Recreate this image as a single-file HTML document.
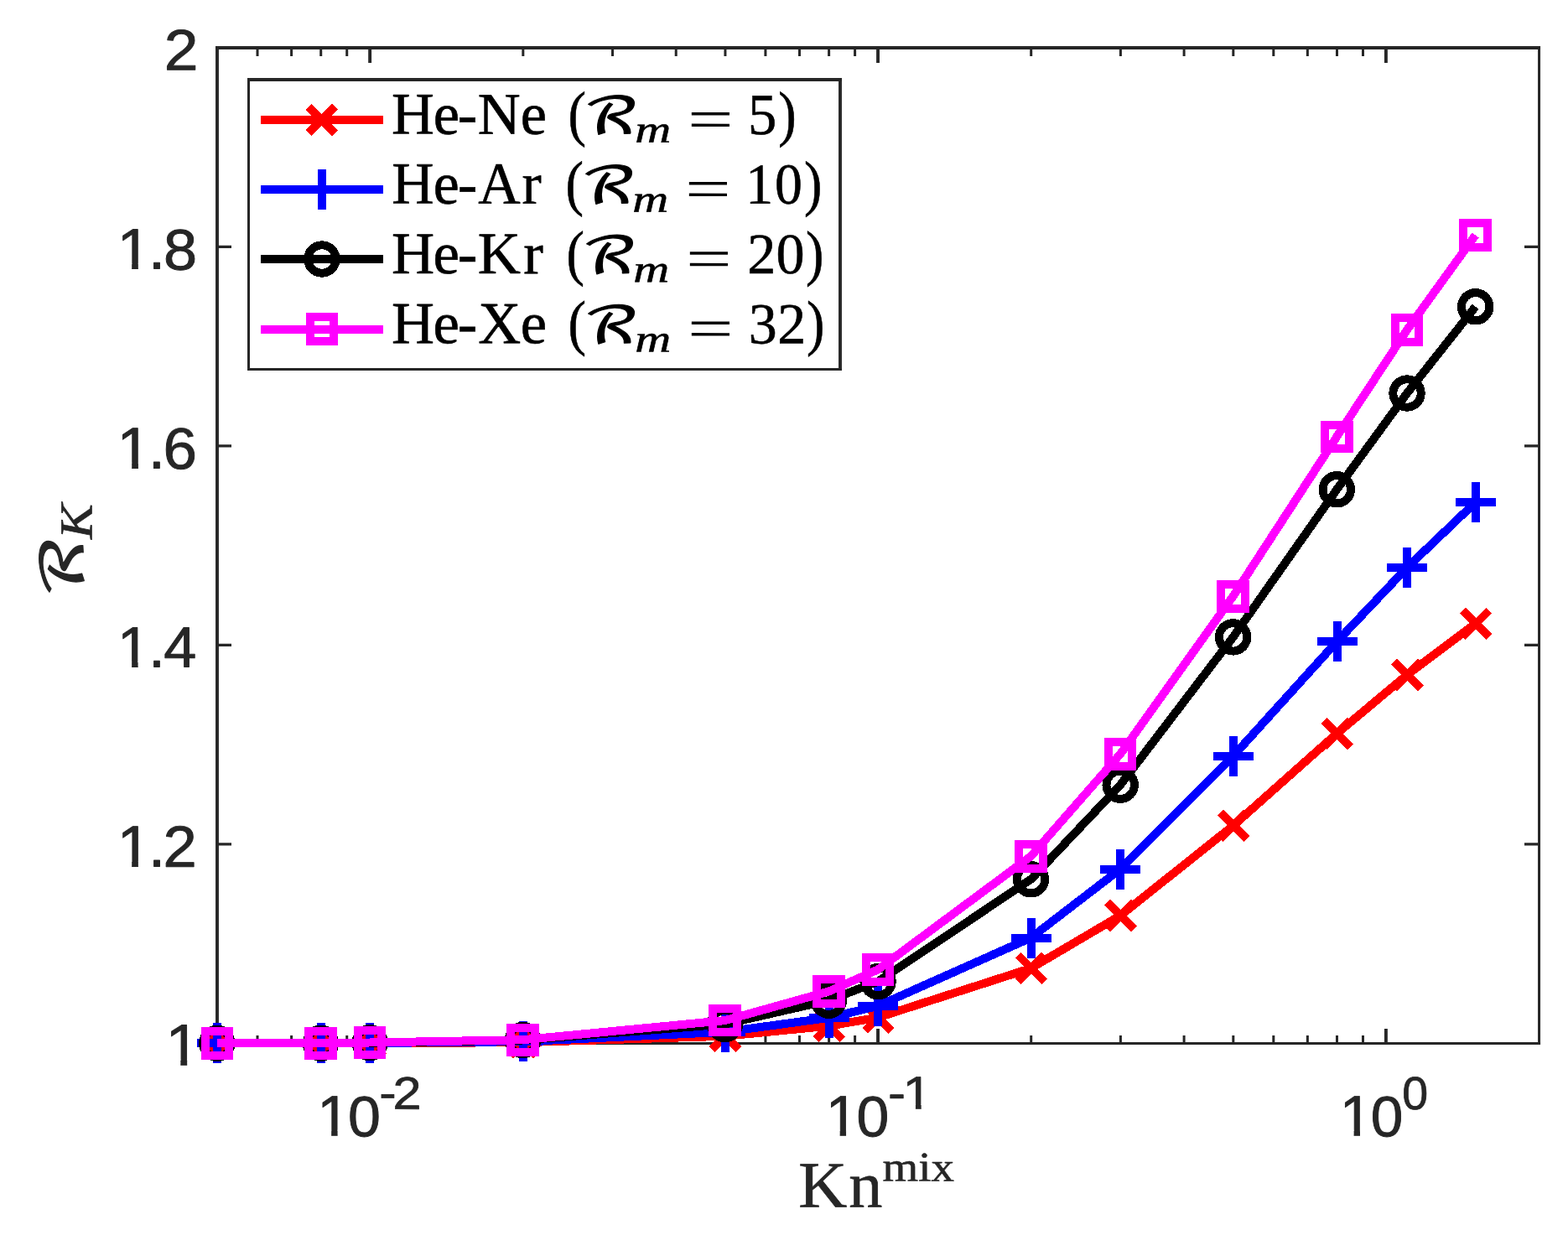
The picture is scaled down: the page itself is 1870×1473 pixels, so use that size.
<!DOCTYPE html>
<html lang="en"><head><meta charset="utf-8"><title>R_K versus Kn^mix</title>
<style>html,body{margin:0;padding:0;background:#fff;}svg{display:block;}text{text-rendering:geometricPrecision;}</style></head><body>
<svg xmlns="http://www.w3.org/2000/svg" width="1870" height="1473" viewBox="0 0 1870 1473">
<defs><clipPath id="c1"><path clip-rule="evenodd" d="M-45.95 -120H394.05V60H-45.95ZM-2.11 -6.64H10.91V20H-2.11ZM18.25 -6.64H30.73V20H18.25Z"/></clipPath><clipPath id="c2"><path clip-rule="evenodd" d="M-46.03 -120H393.97V60H-46.03ZM-2.19 -6.64H10.83V20H-2.19ZM18.17 -6.64H30.65V20H18.17Z"/></clipPath><clipPath id="c3"><path clip-rule="evenodd" d="M-45.7 -120H394.3V60H-45.7ZM-1.86 -6.64H11.16V20H-1.86ZM18.5 -6.64H30.98V20H18.5Z"/></clipPath><clipPath id="c4"><path clip-rule="evenodd" d="M-45.98 -120H394.02V60H-45.98ZM-2.14 -6.64H10.88V20H-2.14ZM18.22 -6.64H30.7V20H18.22Z"/></clipPath><clipPath id="c5"><path clip-rule="evenodd" d="M-46.23 -120H393.77V60H-46.23ZM-2.39 -6.64H10.63V20H-2.39ZM17.97 -6.64H30.45V20H17.97Z"/></clipPath><clipPath id="c6"><path clip-rule="evenodd" d="M-45.63 -120H394.37V60H-45.63ZM-1.79 -6.64H11.23V20H-1.79ZM18.57 -6.64H31.05V20H18.57Z"/></clipPath><clipPath id="c7"><path clip-rule="evenodd" d="M-46.08 -120H393.92V60H-46.08ZM-2.24 -6.64H10.79V20H-2.24ZM18.12 -6.64H30.6V20H18.12Z"/></clipPath><clipPath id="c8"><path clip-rule="evenodd" d="M-26.19 -120H413.81V60H-26.19ZM16.68 -5.51H27.27V20H16.68ZM33.2 -5.51H43.36V20H33.2Z"/></clipPath><clipPath id="c9"><path clip-rule="evenodd" d="M-46.15 -120H393.85V60H-46.15ZM-2.31 -6.64H10.71V20H-2.31ZM18.05 -6.64H30.53V20H18.05Z"/></clipPath></defs>
<rect x="0" y="0" width="1870" height="1473" fill="#fff"/>
<g id="axes" fill="none" stroke="#262626" stroke-linecap="butt">
<path d="M257.05 56.95H1837.05" stroke-width="3.9"/>
<path d="M259 55V1246" stroke-width="3.9"/>
<path d="M257.05 1244.5H1837.05" stroke-width="3.0"/>
<path d="M1835.55 55V1246" stroke-width="3.0"/>
<path d="M259.05 1006.83H276M1835.6 1006.83H1818M259.05 769.36H276M1835.6 769.36H1818M259.05 531.89H276M1835.6 531.89H1818M259.05 294.42H276M1835.6 294.42H1818" stroke-width="3.1"/>
<path d="M441.14 1244.3V1226.9M441.14 56.95V75M1047.03 1244.3V1226.9M1047.03 56.95V75M1652.91 1244.3V1226.9M1652.91 56.95V75" stroke-width="3.9"/>
<path d="M307.02 1244.3V1235M307.02 56.95V67M347.59 1244.3V1235M347.59 56.95V67M382.72 1244.3V1235M382.72 56.95V67M413.72 1244.3V1235M413.72 56.95V67M623.83 1244.3V1235M623.83 56.95V67M730.52 1244.3V1235M730.52 56.95V67M806.22 1244.3V1235M806.22 56.95V67M864.94 1244.3V1235M864.94 56.95V67M912.91 1244.3V1235M912.91 56.95V67M953.47 1244.3V1235M953.47 56.95V67M988.61 1244.3V1235M988.61 56.95V67M1019.6 1244.3V1235M1019.6 56.95V67M1229.71 1244.3V1235M1229.71 56.95V67M1336.41 1244.3V1235M1336.41 56.95V67M1412.1 1244.3V1235M1412.1 56.95V67M1470.82 1244.3V1235M1470.82 56.95V67M1518.8 1244.3V1235M1518.8 56.95V67M1559.36 1244.3V1235M1559.36 56.95V67M1594.49 1244.3V1235M1594.49 56.95V67M1625.49 1244.3V1235M1625.49 56.95V67" stroke-width="3.0"/>
</g>
<g id="ticklabels">
<text id="t1" transform="matrix(1.0543 0.001 0 0.9881 198.90 83.34)" x="-3.04" y="0" font-family="'Liberation Sans', sans-serif" font-size="69.44" fill="#262626" stroke="#262626" stroke-width="0.9" stroke-linejoin="round">2</text>
<text id="t2" transform="matrix(1.0385 0.001 0 0.9843 145.87 320.40)" x="-5.95 29.96 47.23" y="0 0 0.97" font-family="'Liberation Sans', sans-serif" font-size="69.44" fill="#262626" stroke="#262626" stroke-width="0.9" stroke-linejoin="round" clip-path="url(#c1)">1.8</text>
<text id="t3" transform="matrix(1.0482 0.001 0 1.0028 145.87 558.39)" x="-6.03 29.59 46.38" y="0 0 0.58" font-family="'Liberation Sans', sans-serif" font-size="69.44" fill="#262626" stroke="#262626" stroke-width="0.9" stroke-linejoin="round" clip-path="url(#c2)">1.6</text>
<text id="t4" transform="matrix(1.0111 0.001 0 0.9843 145.87 795.40)" x="-5.7 31.03 48.85" y="0" font-family="'Liberation Sans', sans-serif" font-size="69.44" fill="#262626" stroke="#262626" stroke-width="0.9" stroke-linejoin="round" clip-path="url(#c3)">1.4</text>
<text id="t5" transform="matrix(1.0422 0.001 0 1.0028 145.87 1033.39)" x="-5.98 29.82 46.62" y="0 0 0.36" font-family="'Liberation Sans', sans-serif" font-size="69.44" fill="#262626" stroke="#262626" stroke-width="0.9" stroke-linejoin="round" clip-path="url(#c4)">1.2</text>
<text id="t6" transform="matrix(1.0629 0.001 0 0.9997 204.06 1270.29)" x="-6.23" y="0" font-family="'Liberation Sans', sans-serif" font-size="69.44" fill="#262626" stroke="#262626" stroke-width="0.9" stroke-linejoin="round" clip-path="url(#c5)">1</text>
<g><text id="t7" transform="matrix(1.0082 0.001 0 0.9814 383.85 1354.37)" x="-5.63 30.92" y="0 0.88" font-family="'Liberation Sans', sans-serif" font-size="69.44" fill="#262626" stroke="#262626" stroke-width="0.9" stroke-linejoin="round" clip-path="url(#c6)">10</text><text id="t8" transform="matrix(1.1015 0.001 0 0.9854 453.85 1322.65)" x="-1.43 13.34" y="-0.63 0" font-family="'Liberation Sans', sans-serif" font-size="55.55" fill="#262626" stroke="#262626" stroke-width="0.72" stroke-linejoin="round">-2</text></g>
<g><text id="t9" transform="matrix(1.0036 0.001 0 0.9814 990.87 1354.37)" x="-6.08 30.64" y="0 0.88" font-family="'Liberation Sans', sans-serif" font-size="69.44" fill="#262626" stroke="#262626" stroke-width="0.9" stroke-linejoin="round" clip-path="url(#c7)">10</text><text id="t10" transform="matrix(1.1360 0.001 0 0.9959 1060.95 1322.49)" x="-1.67 13.81" y="0.03 0" font-family="'Liberation Sans', sans-serif" font-size="55.55" fill="#262626" stroke="#262626" stroke-width="0.72" stroke-linejoin="round" clip-path="url(#c8)">-1</text></g>
<g><text id="t11" transform="matrix(0.9995 0.001 0 0.9814 1603.94 1354.37)" x="-6.15 30.76" y="0 0.88" font-family="'Liberation Sans', sans-serif" font-size="69.44" fill="#262626" stroke="#262626" stroke-width="0.9" stroke-linejoin="round" clip-path="url(#c9)">10</text><text id="t12" transform="matrix(0.9991 0.001 0 0.9965 1673.94 1323.09)" x="-1.81" y="0" font-family="'Liberation Sans', sans-serif" font-size="55.55" fill="#262626" stroke="#262626" stroke-width="0.72" stroke-linejoin="round">0</text></g>
<g id="xlabel"><text id="t13" transform="matrix(1.0510 0.001 0 1.0266 954.87 1439.64)" x="-2.54 54.51" y="0" font-family="'Liberation Serif', serif" font-size="76.4" fill="#262626" stroke="#262626" stroke-width="0.6" stroke-linejoin="round">Kn</text><text id="t14" transform="matrix(1.0256 0.001 0 0.9303 1052.90 1408.57)" x="-0.51 41.34 56.13" y="0" font-family="'Liberation Serif', serif" font-size="53.48" fill="#262626" stroke="#262626" stroke-width="0.6" stroke-linejoin="round">mix</text></g>
<g id="ylabel"><text id="t15" transform="rotate(-90) matrix(1.1600 0.001 0 0.8959 -706.98 99.10)" x="-5.51" y="0" font-family="'DejaVu Math TeX Gyre', 'DejaVu Sans', sans-serif" font-size="76.4" fill="#262626" stroke="#262626" stroke-width="1.2" stroke-linejoin="round">ℛ</text><text id="t16" transform="rotate(-90) matrix(1.1728 0.001 0 1.0337 -643.98 109.46)" x="0.93" y="0" font-family="'Liberation Serif', serif" font-size="53.48" fill="#262626" font-style="italic" stroke="#262626" stroke-width="0.6" stroke-linejoin="round">K</text></g>
</g>
<g id="data" fill="none" stroke-linecap="butt" stroke-linejoin="miter" shape-rendering="crispEdges">
<path d="M258.8 1244.4L382.47 1244.2L441.19 1244.2L623.58 1243.2L864.69 1235.8L988.36 1223.7L1047.08 1213.6L1229.46 1154.9L1336.16 1092L1470.57 984.9L1594.24 875L1678.04 805L1759.65 743.9" stroke="#ff0000" stroke-width="10.0"/>
<path d="M243.4 1228.6L275 1260.2M243.4 1260.2L275 1228.6M367.07 1228.4L398.67 1260M367.07 1260L398.67 1228.4M425.79 1228.4L457.39 1260M425.79 1260L457.39 1228.4M608.18 1227.4L639.78 1259M608.18 1259L639.78 1227.4M849.29 1220L880.89 1251.6M849.29 1251.6L880.89 1220M972.96 1207.9L1004.56 1239.5M972.96 1239.5L1004.56 1207.9M1031.68 1197.8L1063.28 1229.4M1031.68 1229.4L1063.28 1197.8M1214.06 1139.1L1245.66 1170.7M1214.06 1170.7L1245.66 1139.1M1320.76 1076.2L1352.36 1107.8M1320.76 1107.8L1352.36 1076.2M1455.17 969.1L1486.77 1000.7M1455.17 1000.7L1486.77 969.1M1578.84 859.2L1610.44 890.8M1578.84 890.8L1610.44 859.2M1662.64 789.2L1694.24 820.8M1662.64 820.8L1694.24 789.2M1744.25 728.1L1775.85 759.7M1744.25 759.7L1775.85 728.1" stroke="#ff0000" stroke-width="9.8"/>
<path d="M258.8 1244.4L382.47 1244.2L441.19 1244L623.58 1242.2L864.69 1230.8L988.36 1213.9L1047.08 1199.8L1229.46 1118.5L1336.16 1036.5L1470.57 901.9L1594.24 765.4L1678.04 677L1759.65 599.1" stroke="#0000ff" stroke-width="10.0"/>
<path d="M235.1 1244.4H283.1M259.1 1220.4V1268.4M358.77 1244.2H406.77M382.77 1220.2V1268.2M417.49 1244H465.49M441.49 1220V1268M599.88 1242.2H647.88M623.88 1218.2V1266.2M840.99 1230.8H888.99M864.99 1206.8V1254.8M964.66 1213.9H1012.66M988.66 1189.9V1237.9M1023.38 1199.8H1071.38M1047.38 1175.8V1223.8M1205.76 1118.5H1253.76M1229.76 1094.5V1142.5M1312.46 1036.5H1360.46M1336.46 1012.5V1060.5M1446.87 901.9H1494.87M1470.87 877.9V925.9M1570.54 765.4H1618.54M1594.54 741.4V789.4M1654.34 677H1702.34M1678.34 653V701M1735.95 599.1H1783.95M1759.95 575.1V623.1" stroke="#0000ff" stroke-width="10.0"/>
<path d="M258.8 1244.4L382.47 1244.2L441.19 1243.7L623.58 1240.5L864.69 1221.5L988.36 1193.2L1047.08 1170.6L1229.46 1048.8L1336.16 936.2L1470.57 759.9L1594.24 583.8L1678.04 469L1759.65 365.8" stroke="#000000" stroke-width="10.0"/>
<path d="M242.1 1244.4a16.7 16.7 0 1 0 33.4 0a16.7 16.7 0 1 0 -33.4 0ZM365.77 1244.2a16.7 16.7 0 1 0 33.4 0a16.7 16.7 0 1 0 -33.4 0ZM424.49 1243.7a16.7 16.7 0 1 0 33.4 0a16.7 16.7 0 1 0 -33.4 0ZM606.88 1240.5a16.7 16.7 0 1 0 33.4 0a16.7 16.7 0 1 0 -33.4 0ZM847.99 1221.5a16.7 16.7 0 1 0 33.4 0a16.7 16.7 0 1 0 -33.4 0ZM971.66 1193.2a16.7 16.7 0 1 0 33.4 0a16.7 16.7 0 1 0 -33.4 0ZM1030.38 1170.6a16.7 16.7 0 1 0 33.4 0a16.7 16.7 0 1 0 -33.4 0ZM1212.76 1048.8a16.7 16.7 0 1 0 33.4 0a16.7 16.7 0 1 0 -33.4 0ZM1319.46 936.2a16.7 16.7 0 1 0 33.4 0a16.7 16.7 0 1 0 -33.4 0ZM1453.87 759.9a16.7 16.7 0 1 0 33.4 0a16.7 16.7 0 1 0 -33.4 0ZM1577.54 583.8a16.7 16.7 0 1 0 33.4 0a16.7 16.7 0 1 0 -33.4 0ZM1661.34 469a16.7 16.7 0 1 0 33.4 0a16.7 16.7 0 1 0 -33.4 0ZM1742.95 365.8a16.7 16.7 0 1 0 33.4 0a16.7 16.7 0 1 0 -33.4 0Z" stroke="#000000" stroke-width="10.0"/>
<path d="M258.8 1244.4L382.47 1244.2L441.19 1243.5L623.58 1240.2L864.69 1217.1L988.36 1182.5L1047.08 1156.4L1229.46 1021.2L1336.16 899.3L1470.57 711.2L1594.24 520.9L1678.04 393.4L1759.65 280.5" stroke="#ff00ff" stroke-width="10.0"/>
<path d="M244.5 1230.1H273.1V1258.7H244.5ZM368.17 1229.9H396.77V1258.5H368.17ZM426.89 1229.2H455.49V1257.8H426.89ZM609.28 1225.9H637.88V1254.5H609.28ZM850.39 1202.8H878.99V1231.4H850.39ZM974.06 1168.2H1002.66V1196.8H974.06ZM1032.78 1142.1H1061.38V1170.7H1032.78ZM1215.16 1006.9H1243.76V1035.5H1215.16ZM1321.86 885H1350.46V913.6H1321.86ZM1456.27 696.9H1484.87V725.5H1456.27ZM1579.94 506.6H1608.54V535.2H1579.94ZM1663.74 379.1H1692.34V407.7H1663.74ZM1745.35 266.2H1773.95V294.8H1745.35Z" stroke="#ff00ff" stroke-width="10.0"/>
</g>
<g id="legend">
<rect x="295" y="93" width="709" height="349" fill="#fff"/>
<g fill="none" stroke="#262626"><path d="M295 95H1004" stroke-width="3.9"/><path d="M1002 93V442" stroke-width="3.9"/><path d="M296.5 93V442M295 440.45H1004" stroke-width="3"/></g>
<g>
<g fill="none" stroke="#ff0000" stroke-linecap="butt" shape-rendering="crispEdges"><path d="M310.9 143.0H457" stroke-width="10.0"/><path d="M368.1 127.2L399.7 158.8M368.1 158.8L399.7 127.2" stroke-width="9.8"/></g>
<text id="t17" transform="matrix(1.0160 0.001 0 1.0202 468.96 159.60)" x="-1.89 46.93 75.59 99.23 149.35" y="0" font-family="'Liberation Serif', serif" font-size="69.44" fill="#000" stroke="#000" stroke-width="0.6" stroke-linejoin="round">He-Ne</text> <text id="t18" transform="matrix(0.9276 0.001 0 1.0541 680.10 159.95)" x="-2.75" y="0" font-family="'Liberation Serif', serif" font-size="69.44" fill="#000" stroke="#000" stroke-width="0.6" stroke-linejoin="round">(</text><text id="t19" transform="matrix(1.1526 0.001 0 0.8609 700.97 159.31)" x="-4.96" y="0" font-family="'DejaVu Math TeX Gyre', 'DejaVu Sans', sans-serif" font-size="69.44" fill="#000" stroke="#000" stroke-width="1.2" stroke-linejoin="round">ℛ</text><text id="t20" transform="matrix(1.2258 0.001 0 0.9390 758.98 169.82)" x="-1.46" y="0" font-family="'Liberation Serif', serif" font-size="48.61" fill="#000" font-style="italic" stroke="#000" stroke-width="0.6" stroke-linejoin="round">m</text> <text id="t21" transform="matrix(1.3970 0.001 0 0.9770 824.94 164.97)" x="-3.46" y="0" font-family="'Liberation Serif', serif" font-size="69.44" fill="#000">=</text> <text id="t22" transform="matrix(0.9887 0.001 0 1.0071 895.79 159.94)" x="-3.73" y="0" font-family="'Liberation Serif', serif" font-size="69.44" fill="#000" stroke="#000" stroke-width="0.6" stroke-linejoin="round">5</text><text id="t23" transform="matrix(0.9271 0.001 0 1.0570 929.97 160.14)" x="-1.94" y="0" font-family="'Liberation Serif', serif" font-size="69.44" fill="#000" stroke="#000" stroke-width="0.6" stroke-linejoin="round">)</text>
</g>
<g>
<g fill="none" stroke="#0000ff" stroke-linecap="butt" shape-rendering="crispEdges"><path d="M310.9 226.0H457" stroke-width="10.0"/><path d="M359.9 226H407.9M383.9 202V250" stroke-width="10.0"/></g>
<text id="t24" transform="matrix(1.0046 0.001 0 1.0202 468.96 242.60)" x="-1.62 47.64 76.58 100.77 152.81" y="0" font-family="'Liberation Serif', serif" font-size="69.44" fill="#000" stroke="#000" stroke-width="0.6" stroke-linejoin="round">He-Ar</text> <text id="t25" transform="matrix(0.9276 0.001 0 1.0541 677.10 242.95)" x="-2.75" y="0" font-family="'Liberation Serif', serif" font-size="69.44" fill="#000" stroke="#000" stroke-width="0.6" stroke-linejoin="round">(</text><text id="t26" transform="matrix(1.1526 0.001 0 0.8609 697.97 242.31)" x="-4.96" y="0" font-family="'DejaVu Math TeX Gyre', 'DejaVu Sans', sans-serif" font-size="69.44" fill="#000" stroke="#000" stroke-width="1.2" stroke-linejoin="round">ℛ</text><text id="t27" transform="matrix(1.2258 0.001 0 0.9390 755.98 252.82)" x="-1.46" y="0" font-family="'Liberation Serif', serif" font-size="48.61" fill="#000" font-style="italic" stroke="#000" stroke-width="0.6" stroke-linejoin="round">m</text> <text id="t28" transform="matrix(1.3970 0.001 0 0.9770 821.94 247.97)" x="-3.46" y="0" font-family="'Liberation Serif', serif" font-size="69.44" fill="#000">=</text> <text id="t29" transform="matrix(0.9472 0.001 0 0.9935 895.02 242.67)" x="-6.17 30.7" y="0" font-family="'Liberation Serif', serif" font-size="69.44" fill="#000" stroke="#000" stroke-width="0.6" stroke-linejoin="round">10</text><text id="t30" transform="matrix(0.9271 0.001 0 1.0570 960.92 243.14)" x="-1.94" y="0" font-family="'Liberation Serif', serif" font-size="69.44" fill="#000" stroke="#000" stroke-width="0.6" stroke-linejoin="round">)</text>
</g>
<g>
<g fill="none" stroke="#000000" stroke-linecap="butt" shape-rendering="crispEdges"><path d="M310.9 309.0H457" stroke-width="10.0"/><path d="M367.2 309a16.7 16.7 0 1 0 33.4 0a16.7 16.7 0 1 0 -33.4 0Z" stroke-width="10.0"/></g>
<text id="t31" transform="matrix(1.0209 0.001 0 1.0202 468.96 326.00)" x="-2 46.62 75.17 98.73 152.06" y="0" font-family="'Liberation Serif', serif" font-size="69.44" fill="#000" stroke="#000" stroke-width="0.6" stroke-linejoin="round">He-Kr</text> <text id="t32" transform="matrix(0.9276 0.001 0 1.0541 678.10 326.35)" x="-2.75" y="0" font-family="'Liberation Serif', serif" font-size="69.44" fill="#000" stroke="#000" stroke-width="0.6" stroke-linejoin="round">(</text><text id="t33" transform="matrix(1.1526 0.001 0 0.8609 698.97 325.71)" x="-4.96" y="0" font-family="'DejaVu Math TeX Gyre', 'DejaVu Sans', sans-serif" font-size="69.44" fill="#000" stroke="#000" stroke-width="1.2" stroke-linejoin="round">ℛ</text><text id="t34" transform="matrix(1.2258 0.001 0 0.9390 756.98 336.22)" x="-1.46" y="0" font-family="'Liberation Serif', serif" font-size="48.61" fill="#000" font-style="italic" stroke="#000" stroke-width="0.6" stroke-linejoin="round">m</text> <text id="t35" transform="matrix(1.3970 0.001 0 0.9770 822.94 331.37)" x="-3.46" y="0" font-family="'Liberation Serif', serif" font-size="69.44" fill="#000">=</text> <text id="t36" transform="matrix(0.9814 0.001 0 0.9906 893.86 326.07)" x="-2.58 32.18" y="0" font-family="'Liberation Serif', serif" font-size="69.44" fill="#000" stroke="#000" stroke-width="0.6" stroke-linejoin="round">20</text><text id="t37" transform="matrix(0.9271 0.001 0 1.0570 962.86 326.54)" x="-1.94" y="0" font-family="'Liberation Serif', serif" font-size="69.44" fill="#000" stroke="#000" stroke-width="0.6" stroke-linejoin="round">)</text>
</g>
<g>
<g fill="none" stroke="#ff00ff" stroke-linecap="butt" shape-rendering="crispEdges"><path d="M310.9 392.6H457" stroke-width="10.0"/><path d="M369.6 378.3H398.2V406.9H369.6Z" stroke-width="10.0"/></g>
<text id="t38" transform="matrix(1.0177 0.001 0 1.0202 468.96 409.20)" x="-1.93 46.83 75.45 99.64 149.08" y="0" font-family="'Liberation Serif', serif" font-size="69.44" fill="#000" stroke="#000" stroke-width="0.6" stroke-linejoin="round">He-Xe</text> <text id="t39" transform="matrix(0.9276 0.001 0 1.0541 680.10 409.55)" x="-2.75" y="0" font-family="'Liberation Serif', serif" font-size="69.44" fill="#000" stroke="#000" stroke-width="0.6" stroke-linejoin="round">(</text><text id="t40" transform="matrix(1.1526 0.001 0 0.8609 700.97 408.91)" x="-4.96" y="0" font-family="'DejaVu Math TeX Gyre', 'DejaVu Sans', sans-serif" font-size="69.44" fill="#000" stroke="#000" stroke-width="1.2" stroke-linejoin="round">ℛ</text><text id="t41" transform="matrix(1.2258 0.001 0 0.9390 758.98 419.42)" x="-1.46" y="0" font-family="'Liberation Serif', serif" font-size="48.61" fill="#000" font-style="italic" stroke="#000" stroke-width="0.6" stroke-linejoin="round">m</text> <text id="t42" transform="matrix(1.3970 0.001 0 0.9770 824.94 414.57)" x="-3.46" y="0" font-family="'Liberation Serif', serif" font-size="69.44" fill="#000">=</text> <text id="t43" transform="matrix(0.9776 0.001 0 0.9963 895.79 409.53)" x="-3.22 32.27" y="0" font-family="'Liberation Serif', serif" font-size="69.44" fill="#000" stroke="#000" stroke-width="0.6" stroke-linejoin="round">32</text><text id="t44" transform="matrix(0.9271 0.001 0 1.0570 963.82 409.74)" x="-1.94" y="0" font-family="'Liberation Serif', serif" font-size="69.44" fill="#000" stroke="#000" stroke-width="0.6" stroke-linejoin="round">)</text>
</g>
</g>
</svg>
</body></html>
